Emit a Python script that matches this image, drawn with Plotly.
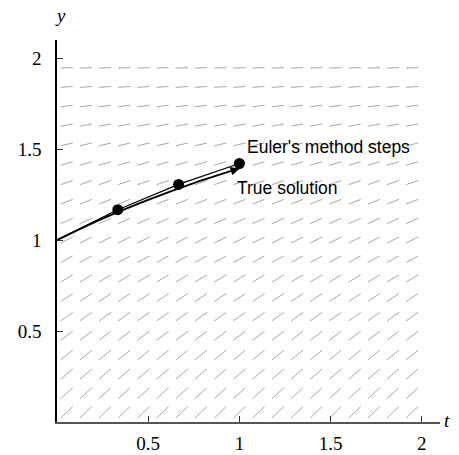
import plotly.graph_objects as go

# slope field grid (t columns, y rows) and the slope dy/dt along each row
field_t = [0.053, 0.158, 0.263, 0.368, 0.474, 0.579, 0.684, 0.789, 0.895, 1.0,
           1.105, 1.211, 1.316, 1.421, 1.526, 1.632, 1.737, 1.842, 1.947]
field_y = [0.053, 0.158, 0.263, 0.368, 0.474, 0.579, 0.684, 0.789, 0.895, 1.0,
           1.105, 1.211, 1.316, 1.421, 1.526, 1.632, 1.737, 1.842, 1.947]
field_slope = [0.974, 0.921, 0.868, 0.816, 0.763, 0.711, 0.658, 0.605, 0.553, 0.5,
               0.447, 0.395, 0.342, 0.289, 0.237, 0.184, 0.132, 0.079, 0.026]

# Euler's method, step 1/3
euler_t = [0.0, 1/3, 2/3, 1.0]
euler_y = [1.0, 1.167, 1.306, 1.421]

# exact solution through (0, 1)
true_t = [0.0, 0.25, 0.5, 0.75, 1.0]
true_y = [1.0, 1.118, 1.221, 1.313, 1.394]

tick_vals = [0.5, 1, 1.5, 2]
tick_text = ["0.5", "1", "1.5", "2"]

HALF = 0.033  # half the horizontal extent of a field segment

seg_x, seg_y = [], []
for yv, s in zip(field_y, field_slope):
    for tv in field_t:
        seg_x += [tv - HALF, tv + HALF, None]
        seg_y += [yv - s * HALF, yv + s * HALF, None]

fig = go.Figure()
fig.add_trace(go.Scatter(x=seg_x, y=seg_y, mode="lines",
                         line=dict(color="#a8a8a8", width=1),
                         hoverinfo="skip", showlegend=False))
fig.add_trace(go.Scatter(x=true_t, y=true_y, mode="lines",
                         line=dict(color="black", width=2, shape="spline"),
                         showlegend=False))
fig.add_trace(go.Scatter(x=euler_t, y=euler_y, mode="lines",
                         line=dict(color="black", width=1.3),
                         showlegend=False))
fig.add_trace(go.Scatter(x=euler_t[1:], y=euler_y[1:], mode="markers",
                         marker=dict(color="black", size=11),
                         showlegend=False))

# arrowhead at the end of the exact solution
fig.add_annotation(x=true_t[-1], y=true_y[-1], ax=true_t[-2] + 0.2, ay=true_y[-2] + 0.065,
                   xref="x", yref="y", axref="x", ayref="y", text="",
                   showarrow=True, arrowhead=2, arrowsize=1.1, arrowwidth=1.6,
                   arrowcolor="black", standoff=0)

label_font = dict(family="Liberation Sans", size=17.5, color="black")
fig.add_annotation(x=1.03, y=1.51, text="Euler's method steps", showarrow=False,
                   xanchor="left", yanchor="middle", font=label_font)
fig.add_annotation(x=0.975, y=1.285, text="True solution", showarrow=False,
                   xanchor="left", yanchor="middle", font=label_font)

serif = dict(family="Liberation Serif", size=19, color="black")
fig.add_annotation(x=0.0, y=1.0, xref="x", yref="paper", text="<i>y</i>",
                   showarrow=False, xanchor="center", yanchor="bottom",
                   xshift=3, yshift=12, font=serif)
fig.add_annotation(x=1.0, y=0.0, xref="paper", yref="y", text="<i>t</i>",
                   showarrow=False, xanchor="left", yanchor="middle",
                   xshift=2, yshift=2, font=serif)

fig.update_xaxes(range=[0, 2.1], tickvals=tick_vals, ticktext=tick_text,
                 ticks="inside", ticklen=6, tickcolor="#333", tickwidth=1,
                 showline=True, linecolor="#555", linewidth=1.5,
                 showgrid=False, zeroline=False, tickfont=serif,
                 ticklabelstandoff=3, automargin=False)
fig.update_yaxes(range=[0, 2.1], tickvals=tick_vals, ticktext=tick_text,
                 ticks="inside", ticklen=6, tickcolor="#333", tickwidth=1,
                 showline=True, linecolor="black", linewidth=1.5,
                 showgrid=False, zeroline=False, tickfont=serif,
                 ticklabelstandoff=10, automargin=False)

fig.update_layout(width=459, height=455,
                  margin=dict(l=57, r=19, t=40, b=33),
                  plot_bgcolor="white", paper_bgcolor="white")

fig.write_html("out.html")
